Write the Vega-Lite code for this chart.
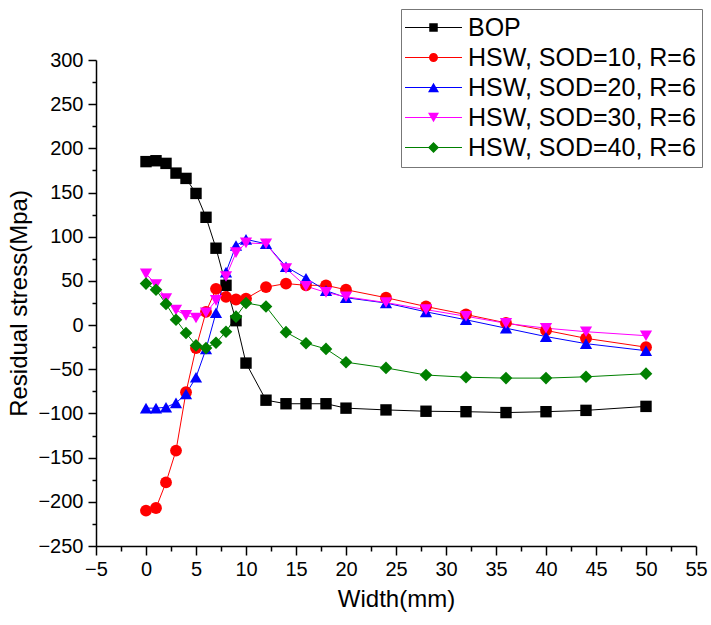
{
  "$schema": "https://vega.github.io/schema/vega-lite/v6.json",
  "width": 600,
  "height": 486,
  "autosize": "none",
  "padding": {"left": 96, "top": 60, "right": 15, "bottom": 79},
  "background": "white",
  "config": {
    "view": {"stroke": null},
    "font": "Liberation Sans",
    "axis": {"grid": false, "domainColor": "black", "domainWidth": 1.5, "tickColor": "black", "tickWidth": 1.5, "labelColor": "black", "labelFont": "Liberation Sans", "labelFontSize": 20, "titleFont": "Liberation Sans", "titleFontSize": 24, "titleFontWeight": "normal", "titleColor": "black", "labelOverlap": false, "labelFlush": false, "labelBound": false}
  },
  "data": {"values": [
    {"width": 0, "stress": 185, "series": "BOP"},
    {"width": 1, "stress": 186, "series": "BOP"},
    {"width": 2, "stress": 183, "series": "BOP"},
    {"width": 3, "stress": 172, "series": "BOP"},
    {"width": 4, "stress": 166, "series": "BOP"},
    {"width": 5, "stress": 149, "series": "BOP"},
    {"width": 6, "stress": 122, "series": "BOP"},
    {"width": 7, "stress": 87, "series": "BOP"},
    {"width": 8, "stress": 45, "series": "BOP"},
    {"width": 9, "stress": 5, "series": "BOP"},
    {"width": 10, "stress": -43, "series": "BOP"},
    {"width": 12, "stress": -85, "series": "BOP"},
    {"width": 14, "stress": -89, "series": "BOP"},
    {"width": 16, "stress": -89, "series": "BOP"},
    {"width": 18, "stress": -89, "series": "BOP"},
    {"width": 20, "stress": -94, "series": "BOP"},
    {"width": 24, "stress": -96, "series": "BOP"},
    {"width": 28, "stress": -97.5, "series": "BOP"},
    {"width": 32, "stress": -98, "series": "BOP"},
    {"width": 36, "stress": -99, "series": "BOP"},
    {"width": 40, "stress": -98, "series": "BOP"},
    {"width": 44, "stress": -96.5, "series": "BOP"},
    {"width": 50, "stress": -92, "series": "BOP"},
    {"width": 0, "stress": -210, "series": "HSW, SOD=10, R=6"},
    {"width": 1, "stress": -207, "series": "HSW, SOD=10, R=6"},
    {"width": 2, "stress": -178, "series": "HSW, SOD=10, R=6"},
    {"width": 3, "stress": -142, "series": "HSW, SOD=10, R=6"},
    {"width": 4, "stress": -76, "series": "HSW, SOD=10, R=6"},
    {"width": 5, "stress": -26, "series": "HSW, SOD=10, R=6"},
    {"width": 6, "stress": 15, "series": "HSW, SOD=10, R=6"},
    {"width": 7, "stress": 41, "series": "HSW, SOD=10, R=6"},
    {"width": 8, "stress": 32, "series": "HSW, SOD=10, R=6"},
    {"width": 9, "stress": 29, "series": "HSW, SOD=10, R=6"},
    {"width": 10, "stress": 30, "series": "HSW, SOD=10, R=6"},
    {"width": 12, "stress": 43, "series": "HSW, SOD=10, R=6"},
    {"width": 14, "stress": 47, "series": "HSW, SOD=10, R=6"},
    {"width": 16, "stress": 45, "series": "HSW, SOD=10, R=6"},
    {"width": 18, "stress": 45, "series": "HSW, SOD=10, R=6"},
    {"width": 20, "stress": 40, "series": "HSW, SOD=10, R=6"},
    {"width": 24, "stress": 31, "series": "HSW, SOD=10, R=6"},
    {"width": 28, "stress": 21, "series": "HSW, SOD=10, R=6"},
    {"width": 32, "stress": 12, "series": "HSW, SOD=10, R=6"},
    {"width": 36, "stress": 2.5, "series": "HSW, SOD=10, R=6"},
    {"width": 40, "stress": -6, "series": "HSW, SOD=10, R=6"},
    {"width": 44, "stress": -15, "series": "HSW, SOD=10, R=6"},
    {"width": 50, "stress": -25, "series": "HSW, SOD=10, R=6"},
    {"width": 0, "stress": -94, "series": "HSW, SOD=20, R=6"},
    {"width": 1, "stress": -94, "series": "HSW, SOD=20, R=6"},
    {"width": 2, "stress": -93, "series": "HSW, SOD=20, R=6"},
    {"width": 3, "stress": -88, "series": "HSW, SOD=20, R=6"},
    {"width": 4, "stress": -78, "series": "HSW, SOD=20, R=6"},
    {"width": 5, "stress": -59, "series": "HSW, SOD=20, R=6"},
    {"width": 6, "stress": -27, "series": "HSW, SOD=20, R=6"},
    {"width": 7, "stress": 14, "series": "HSW, SOD=20, R=6"},
    {"width": 8, "stress": 60, "series": "HSW, SOD=20, R=6"},
    {"width": 9, "stress": 90, "series": "HSW, SOD=20, R=6"},
    {"width": 10, "stress": 97, "series": "HSW, SOD=20, R=6"},
    {"width": 12, "stress": 92, "series": "HSW, SOD=20, R=6"},
    {"width": 14, "stress": 66, "series": "HSW, SOD=20, R=6"},
    {"width": 16, "stress": 53, "series": "HSW, SOD=20, R=6"},
    {"width": 18, "stress": 39, "series": "HSW, SOD=20, R=6"},
    {"width": 20, "stress": 31, "series": "HSW, SOD=20, R=6"},
    {"width": 24, "stress": 25, "series": "HSW, SOD=20, R=6"},
    {"width": 28, "stress": 15, "series": "HSW, SOD=20, R=6"},
    {"width": 32, "stress": 6, "series": "HSW, SOD=20, R=6"},
    {"width": 36, "stress": -3.5, "series": "HSW, SOD=20, R=6"},
    {"width": 40, "stress": -13, "series": "HSW, SOD=20, R=6"},
    {"width": 44, "stress": -21, "series": "HSW, SOD=20, R=6"},
    {"width": 50, "stress": -29, "series": "HSW, SOD=20, R=6"},
    {"width": 0, "stress": 58, "series": "HSW, SOD=30, R=6"},
    {"width": 1, "stress": 46, "series": "HSW, SOD=30, R=6"},
    {"width": 2, "stress": 30, "series": "HSW, SOD=30, R=6"},
    {"width": 3, "stress": 17, "series": "HSW, SOD=30, R=6"},
    {"width": 4, "stress": 11, "series": "HSW, SOD=30, R=6"},
    {"width": 5, "stress": 8, "series": "HSW, SOD=30, R=6"},
    {"width": 6, "stress": 14, "series": "HSW, SOD=30, R=6"},
    {"width": 7, "stress": 28, "series": "HSW, SOD=30, R=6"},
    {"width": 8, "stress": 55, "series": "HSW, SOD=30, R=6"},
    {"width": 9, "stress": 82, "series": "HSW, SOD=30, R=6"},
    {"width": 10, "stress": 93, "series": "HSW, SOD=30, R=6"},
    {"width": 12, "stress": 92, "series": "HSW, SOD=30, R=6"},
    {"width": 14, "stress": 64, "series": "HSW, SOD=30, R=6"},
    {"width": 16, "stress": 44, "series": "HSW, SOD=30, R=6"},
    {"width": 18, "stress": 37, "series": "HSW, SOD=30, R=6"},
    {"width": 20, "stress": 32, "series": "HSW, SOD=30, R=6"},
    {"width": 24, "stress": 25.5, "series": "HSW, SOD=30, R=6"},
    {"width": 28, "stress": 17.5, "series": "HSW, SOD=30, R=6"},
    {"width": 32, "stress": 10, "series": "HSW, SOD=30, R=6"},
    {"width": 36, "stress": 2, "series": "HSW, SOD=30, R=6"},
    {"width": 40, "stress": -3.5, "series": "HSW, SOD=30, R=6"},
    {"width": 44, "stress": -7.5, "series": "HSW, SOD=30, R=6"},
    {"width": 50, "stress": -12, "series": "HSW, SOD=30, R=6"},
    {"width": 0, "stress": 47, "series": "HSW, SOD=40, R=6"},
    {"width": 1, "stress": 40, "series": "HSW, SOD=40, R=6"},
    {"width": 2, "stress": 24, "series": "HSW, SOD=40, R=6"},
    {"width": 3, "stress": 6, "series": "HSW, SOD=40, R=6"},
    {"width": 4, "stress": -9, "series": "HSW, SOD=40, R=6"},
    {"width": 5, "stress": -23, "series": "HSW, SOD=40, R=6"},
    {"width": 6, "stress": -26, "series": "HSW, SOD=40, R=6"},
    {"width": 7, "stress": -20, "series": "HSW, SOD=40, R=6"},
    {"width": 8, "stress": -7.5, "series": "HSW, SOD=40, R=6"},
    {"width": 9, "stress": 9.5, "series": "HSW, SOD=40, R=6"},
    {"width": 10, "stress": 25, "series": "HSW, SOD=40, R=6"},
    {"width": 12, "stress": 21, "series": "HSW, SOD=40, R=6"},
    {"width": 14, "stress": -8, "series": "HSW, SOD=40, R=6"},
    {"width": 16, "stress": -20.5, "series": "HSW, SOD=40, R=6"},
    {"width": 18, "stress": -27, "series": "HSW, SOD=40, R=6"},
    {"width": 20, "stress": -42, "series": "HSW, SOD=40, R=6"},
    {"width": 24, "stress": -48.5, "series": "HSW, SOD=40, R=6"},
    {"width": 28, "stress": -56.5, "series": "HSW, SOD=40, R=6"},
    {"width": 32, "stress": -59, "series": "HSW, SOD=40, R=6"},
    {"width": 36, "stress": -60, "series": "HSW, SOD=40, R=6"},
    {"width": 40, "stress": -60, "series": "HSW, SOD=40, R=6"},
    {"width": 44, "stress": -58.5, "series": "HSW, SOD=40, R=6"},
    {"width": 50, "stress": -55, "series": "HSW, SOD=40, R=6"}
  ]},
  "encoding": {
    "x": {
      "field": "width", "type": "quantitative",
      "scale": {"domain": [-5, 55], "nice": false, "zero": false},
      "axis": {
        "title": "Width(mm)",
        "values": [-5, -2.5, 0, 2.5, 5, 7.5, 10, 12.5, 15, 17.5, 20, 22.5, 25, 27.5, 30, 32.5, 35, 37.5, 40, 42.5, 45, 47.5, 50, 52.5, 55],
        "labelExpr": "datum.value % 5 === 0 ? datum.label : ''",
        "tickSize": {"condition": {"test": "datum.value % 5 === 0", "value": 9}, "value": 5},
        "labelPadding": 4,
        "titlePadding": 8
      }
    },
    "y": {
      "field": "stress", "type": "quantitative",
      "scale": {"domain": [-250, 300], "nice": false, "zero": false},
      "axis": {
        "title": "Residual stress(Mpa)",
        "values": [-250, -225, -200, -175, -150, -125, -100, -75, -50, -25, 0, 25, 50, 75, 100, 125, 150, 175, 200, 225, 250, 275, 300],
        "labelExpr": "datum.value % 50 === 0 ? datum.label : ''",
        "tickSize": {"condition": {"test": "datum.value % 50 === 0", "value": 8}, "value": 4},
        "labelPadding": 5,
        "titlePadding": 6
      }
    },
    "color": {
      "field": "series", "type": "nominal",
      "scale": {
        "domain": ["BOP", "HSW, SOD=10, R=6", "HSW, SOD=20, R=6", "HSW, SOD=30, R=6", "HSW, SOD=40, R=6"],
        "range": ["#000000", "#ff0000", "#0000ff", "#ff00ff", "#008000"]
      },
      "legend": {
        "title": null,
        "orient": "none",
        "legendX": 305,
        "legendY": -51,
        "labelFont": "Liberation Sans",
        "labelFontSize": 25,
        "labelColor": "black",
        "labelLimit": 400,
        "strokeColor": "#777777",
        "fillColor": "white",
        "padding": 6,
        "rowPadding": 4,
        "symbolSize": 100,
        "symbolOffset": 14,
        "labelOffset": 22,
        "encode": {
          "symbols": {
            "update": {
              "strokeWidth": {"value": 0},
              "shape": {"signal": "datum.value === 'BOP' ? 'M-5.7,-0.1H5.7V0.1H-5.7ZM-0.85,-0.85H0.85V0.85H-0.85Z' : datum.value === 'HSW, SOD=10, R=6' ? 'M-5.7,-0.1H5.7V0.1H-5.7ZM-0.9,0A0.9,0.9 0 1,1 0.9,0A0.9,0.9 0 1,1 -0.9,0Z' : datum.value === 'HSW, SOD=20, R=6' ? 'M-5.7,-0.1H5.7V0.1H-5.7ZM0,-0.95L1.1,0.95L-1.1,0.95Z' : datum.value === 'HSW, SOD=30, R=6' ? 'M-5.7,-0.1H5.7V0.1H-5.7ZM0,0.95L-1.1,-0.95L1.1,-0.95Z' : 'M-5.7,-0.1H5.7V0.1H-5.7ZM-1.1,0L0,-1.1L1.1,0L0,1.1Z'"}
            }
          }
        }
      }
    }
  },
  "layer": [
    {"mark": {"type": "line", "strokeWidth": 1}, "encoding": {}},
    {"transform": [{"filter": "datum.series === 'BOP'"}], "mark": {"type": "point", "filled": true, "size": 130, "opacity": 1, "shape": "square"}, "encoding": {}},
    {"transform": [{"filter": "datum.series === 'HSW, SOD=10, R=6'"}], "mark": {"type": "point", "filled": true, "size": 140, "opacity": 1, "shape": "circle"}, "encoding": {}},
    {"transform": [{"filter": "datum.series === 'HSW, SOD=20, R=6'"}], "mark": {"type": "point", "filled": true, "size": 150, "opacity": 1, "shape": "triangle-up"}, "encoding": {}},
    {"transform": [{"filter": "datum.series === 'HSW, SOD=30, R=6'"}], "mark": {"type": "point", "filled": true, "size": 150, "opacity": 1, "shape": "triangle-down"}, "encoding": {}},
    {"transform": [{"filter": "datum.series === 'HSW, SOD=40, R=6'"}], "mark": {"type": "point", "filled": true, "size": 160, "opacity": 1, "shape": "diamond"}, "encoding": {}}
  ]
}
